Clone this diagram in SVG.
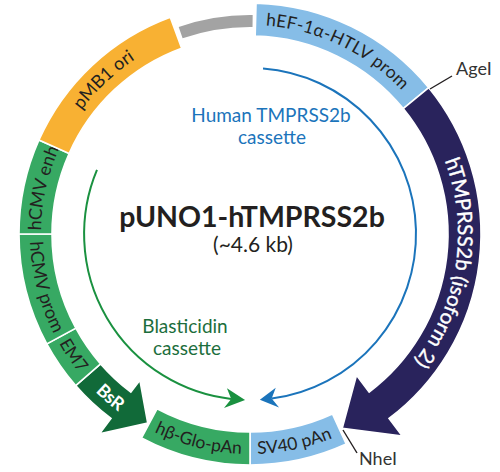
<svg xmlns="http://www.w3.org/2000/svg" width="500" height="472" viewBox="0 0 500 472">
<style>
  .seg { stroke: #ffffff; stroke-width: 1.6; stroke-linejoin: miter; }
  .lbl { font-family: Lato, "Liberation Sans", "DejaVu Sans", sans-serif; font-size: 17.5px; fill: #231f20; }
  .lbl-l { font-size: 18px; }
  .wlbl { font-family: Lato, "Liberation Sans", "DejaVu Sans", sans-serif; fill: #ffffff; }
  .txt { font-family: Lato, "Liberation Sans", sans-serif; }
  .site { font-family: Lato, "Liberation Sans", sans-serif; font-size: 18px; fill: #333333; }
  .lead { stroke: #231f20; stroke-width: 1.4; fill: none; }
</style>
<defs>
  <path id="p-hef" d="M131.62,61.76 A209,209 0 0 1 458.36,217.60"/>
  <path id="p-htm" d="M349.57,51.38 A208,208 0 0 1 291.11,437.90"/>
  <path id="p-enh" d="M108.80,388.09 A209,209 0 0 1 187.15,34.67"/>
  <path id="p-ori" d="M46.77,282.79 A209,209 0 0 1 309.36,33.61"/>
  <path id="p-sv40" d="M86.51,381.21 A220,220 0 0 0 459.23,301.98"/>
  <path id="p-glo" d="M38.52,294.64 A220,220 0 0 0 408.25,386.83"/>
  <path id="p-bsr" d="M32.70,193.72 A221,221 0 0 0 323.77,442.32"/>
  <path id="p-em7" d="M51.43,139.29 A220,220 0 0 0 267.26,453.32"/>
  <path id="p-prom" d="M95.80,77.08 A220,220 0 0 0 191.21,446.00"/>
</defs>

<g id="backbone">
  <path d="M180.65,32.6 A213,213 0 0 1 252.6,21.02" fill="none" stroke="#a3a3a3" stroke-width="12"/>
</g>

<g id="hEF-1a-HTLV-prom">
  <path class="seg" fill="#86bde7" d="M256.05,3.08 A231,231 0 0 1 428.76,87.69 L403.22,108.59 A198,198 0 0 0 255.18,36.07 Z"/>
  <text class="lbl" letter-spacing="0.3"><textPath href="#p-hef" startOffset="50%" text-anchor="middle">hEF-1α-HTLV prom</textPath></text>
</g>

<g id="hTMPRSS2b">
  <path class="seg" fill="#29235c" d="M428.76,87.69 A231,231 0 0 1 389.02,418.49 L402.26,436.06 L342.22,428.22 L356.52,375.36 L369.16,392.13 A198,198 0 0 0 403.22,108.59 Z"/>
  <text class="wlbl" font-size="20.5" stroke="#ffffff" stroke-width="0.35"><textPath href="#p-htm" startOffset="50%" text-anchor="middle">hTMPRSS2b (isoform 2)</textPath></text>
</g>

<g id="SV40-pAn">
  <path class="seg" fill="#86bde7" d="M346.16,444.03 A231,231 0 0 1 250,465 L250,432 A198,198 0 0 0 332.42,414.03 Z"/>
  <text class="lbl"><textPath href="#p-sv40" startOffset="50%" text-anchor="middle">SV40 pAn</textPath></text>
</g>

<g id="hb-Glo-pAn">
  <path class="seg" fill="#37a963" d="M250,465 A231,231 0 0 1 141.55,437.96 L157.04,408.82 A198,198 0 0 0 250,432 Z"/>
  <text class="lbl"><textPath href="#p-glo" startOffset="50%" text-anchor="middle">hβ-Glo-pAn</textPath></text>
</g>

<g id="BsR">
  <path class="seg" fill="#116a39" d="M75.66,385.55 A231,231 0 0 0 110.98,418.49 L99.55,433.66 L147.74,423.12 L139.87,380.15 L130.84,392.13 A198,198 0 0 1 100.57,363.90 Z"/>
  <text class="wlbl" font-size="18" font-weight="bold"><textPath href="#p-bsr" startOffset="50%" text-anchor="middle">BsR</textPath></text>
</g>

<g id="EM7">
  <path class="seg" fill="#37a963" d="M75.66,385.55 A231,231 0 0 1 46.8,343.87 L75.83,328.17 A198,198 0 0 0 100.57,363.90 Z"/>
  <text class="lbl"><textPath href="#p-em7" startOffset="50%" text-anchor="middle">EM7</textPath></text>
</g>

<g id="hCMV-prom">
  <path class="seg" fill="#37a963" d="M46.8,343.87 A231,231 0 0 1 19,234 L52,234 A198,198 0 0 0 75.83,328.17 Z"/>
  <text class="lbl lbl-l"><textPath href="#p-prom" startOffset="50%" text-anchor="middle">hCMV prom</textPath></text>
</g>

<g id="hCMV-enh">
  <path class="seg" fill="#37a963" d="M19,234 A231,231 0 0 1 38.97,140.04 L69.12,153.47 A198,198 0 0 0 52,234 Z"/>
  <text class="lbl lbl-l"><textPath href="#p-enh" startOffset="50%" text-anchor="middle">hCMV enh</textPath></text>
</g>

<g id="pMB1-ori">
  <path class="seg" fill="#f8b133" d="M38.97,140.04 A231,231 0 0 1 170.24,17.21 L181.63,48.18 A198,198 0 0 0 69.12,153.47 Z"/>
  <text class="lbl lbl-l"><textPath href="#p-ori" startOffset="50%" text-anchor="middle">pMB1 ori</textPath></text>
</g>

<g id="AgeI">
  <line class="lead" x1="430" y1="89" x2="452" y2="76"/>
  <text class="site" x="456" y="75">AgeI</text>
</g>

<g id="NheI">
  <line class="lead" x1="343" y1="430" x2="357" y2="453"/>
  <text class="site" x="359" y="465">NheI</text>
</g>

<g id="title">
  <text class="txt" x="252" y="227" font-size="28.5" font-weight="bold" fill="#231f20" text-anchor="middle">pUNO1-hTMPRSS2b</text>
  <text class="txt" x="253" y="252" font-size="21" fill="#231f20" text-anchor="middle">(~4.6 kb)</text>
</g>

<g id="human-cassette">
  <text class="txt" x="271" y="122" font-size="19" fill="#1b74bb" text-anchor="middle">Human TMPRSS2b</text>
  <text class="txt" x="272" y="144" font-size="19" fill="#1b74bb" text-anchor="middle">cassette</text>
</g>

<g id="blasticidin-cassette">
  <text class="txt" x="185" y="333" font-size="19" fill="#1c6e3c" text-anchor="middle">Blasticidin</text>
  <text class="txt" x="187" y="355" font-size="19" fill="#1c6e3c" text-anchor="middle">cassette</text>
</g>

<g id="connectors">
  <path d="M263.02,68.51 A166,166 0 0 1 271.67,398.58" fill="none" stroke="#1b74bb" stroke-width="2"/>
  <polygon points="259.85,399.71 275.75,387.86 271.67,398.58 279.05,407.59" fill="#1b74bb"/>
  <path d="M96.97,169.94 A166,166 0 0 0 231.21,398.93" fill="none" stroke="#1a9140" stroke-width="2"/>
  <polygon points="245.07,399.93 226.94,388.29 231.21,398.93 223.99,408.07" fill="#1a9140"/>
</g>
</svg>
